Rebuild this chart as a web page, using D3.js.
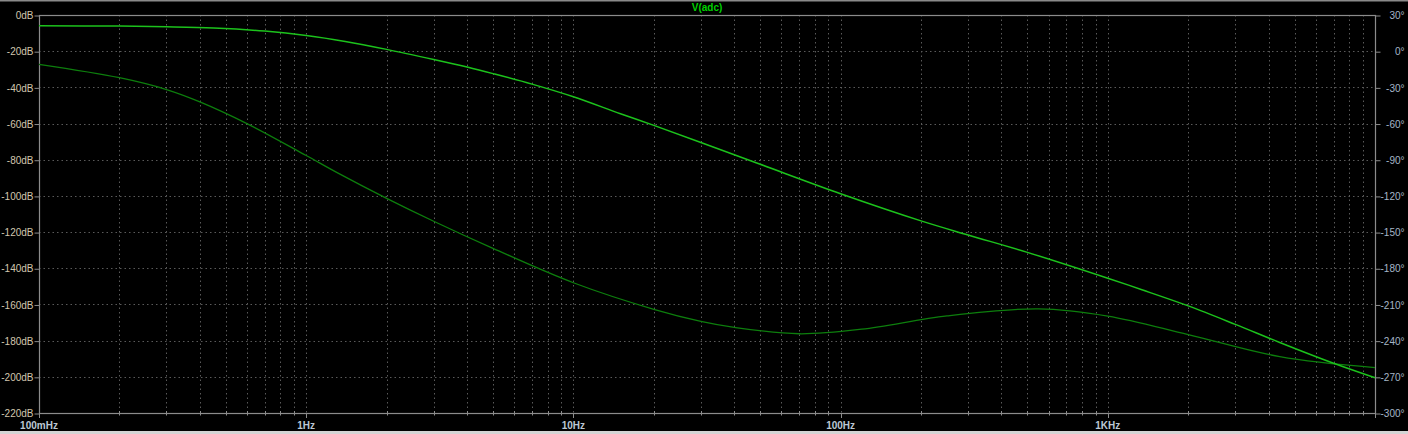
<!DOCTYPE html>
<html><head><meta charset="utf-8">
<script src="https://cdn.jsdelivr.net/npm/d3@7"></script>
<style>
html,body{margin:0;padding:0;background:#000;overflow:hidden}
svg{display:block}
text{font-family:"Liberation Sans",Arial,sans-serif}
</style></head>
<body>
<svg id="chart" width="1408" height="434"></svg>
<script>
// ---- data ----
const title = "V(adc)";
const magFreq = [0.1,0.2,0.3,0.45,0.7,1,1.4,2,3,4,5,7,10,15,20,30,50,100,200,300,500,1000,1350,2000,3000,4400,7000,10000];
const magDb   = [-6,-6.1,-6.5,-7.2,-8.9,-11.3,-14.6,-19,-24.6,-28.8,-32.4,-38.2,-45.2,-54.6,-61,-70.5,-82.5,-98.8,-113.8,-121.6,-131.2,-145.5,-152,-160.8,-171,-181,-192.5,-200.5];
const phFreq  = [0.1,0.2,0.3,0.4,0.6,1,1.3,2,3,5,10,20,30,40,70,120,250,550,1000,2000,4400,10000];
const phaseDeg= [-10.9,-22,-31.8,-42,-60,-86.5,-100.5,-122,-141,-163.5,-192,-214,-224,-229,-234.3,-230.5,-219.5,-213.6,-219.6,-235,-253.3,-262.4];
const magTicks = [0,-20,-40,-60,-80,-100,-120,-140,-160,-180,-200,-220];
const phaseTicks = [30,0,-30,-60,-90,-120,-150,-180,-210,-240,-270,-300];
const freqLabels = [[0.1,"100mHz"],[1,"1Hz"],[10,"10Hz"],[100,"100Hz"],[1000,"1KHz"]];

// ---- layout ----
const L = 39, R = 1375, T = 15, B = 413;
const svg = d3.select("#chart");
svg.append("rect").attr("width",1408).attr("height",434).attr("fill","#000");

const x = d3.scaleLog().domain([0.1,10000]).range([L,R]);
const yMag = d3.scaleLinear().domain([-220,0]).range([B,T]);
const yPh = d3.scaleLinear().domain([-300,30]).range([B,T]);

const freqGrid = [];
for (let e=-1;e<4;e++) for (let m=1;m<10;m++) freqGrid.push(m*Math.pow(10,e));
freqGrid.push(10000);
const isDecade = d => Math.abs(Math.log10(d)-Math.round(Math.log10(d)))<1e-9;

const grid = svg.append("g");
grid.selectAll("line.v").data(freqGrid.filter(f=>f>0.1 && f<10000)).join("line")
  .attr("x1",d=>Math.round(x(d))+0.5).attr("x2",d=>Math.round(x(d))+0.5)
  .attr("y1",T).attr("y2",B)
  .attr("stroke","#5a5a5a").attr("stroke-width",1).attr("stroke-dasharray","1.5,3");
grid.selectAll("line.h").data(magTicks.filter(d=>d<0 && d>-220)).join("line")
  .attr("x1",L).attr("x2",R)
  .attr("y1",d=>Math.round(yMag(d))+0.5).attr("y2",d=>Math.round(yMag(d))+0.5)
  .attr("stroke","#5a5a5a").attr("stroke-width",1).attr("stroke-dasharray","1.5,3");

const frameC = "#8c8c8c";
svg.append("rect").attr("x",L+0.5).attr("y",T+0.5).attr("width",R-L).attr("height",B-T)
  .attr("fill","none").attr("stroke",frameC).attr("stroke-width",1.2);

// left axis
const axL = d3.axisLeft(yMag).tickValues(magTicks).tickSize(5).tickPadding(1).tickFormat(d=>d+"dB");
const gL = svg.append("g").attr("transform",`translate(${L+0.5},0.5)`).call(axL);
gL.select(".domain").remove();
gL.selectAll("line").attr("stroke",frameC);
gL.selectAll("text").attr("fill","#d2c6ae").attr("font-size","10px").attr("font-family","Liberation Sans, Arial, sans-serif");

// right axis (labels right-aligned near window edge)
const axR = d3.axisRight(yPh).tickValues(phaseTicks).tickSize(5).tickFormat(d=>d+"°");
const gR = svg.append("g").attr("transform",`translate(${R+0.5},0.5)`).call(axR);
gR.select(".domain").remove();
gR.selectAll("line").attr("stroke",frameC);
gR.selectAll("text").attr("x",29).attr("text-anchor","end")
  .attr("fill","#a6b6c8").attr("font-size","10px").attr("font-family","Liberation Sans, Arial, sans-serif");

// bottom axis ticks
const gB = svg.append("g");
gB.selectAll("line").data(freqGrid).join("line")
  .attr("x1",d=>Math.round(x(d))+0.5).attr("x2",d=>Math.round(x(d))+0.5)
  .attr("y1",d=>isDecade(d) ? B : B-2)
  .attr("y2",d=>isDecade(d) ? B+5 : B+2.5)
  .attr("stroke",frameC);
gB.selectAll("text").data(freqLabels).join("text")
  .attr("x",d=>x(d[0])).attr("y",B+16).attr("text-anchor","middle")
  .attr("fill","#bcc8d4").attr("font-size","10px").attr("font-weight","bold")
  .text(d=>d[1]);

// title
svg.append("text").attr("x",(L+R)/2).attr("y",11).attr("text-anchor","middle")
  .attr("fill","#00d000").attr("font-size","10px").attr("font-weight","bold").text(title);

// curves
const magPts = magFreq.map((f,i)=>({f, v:magDb[i]}));
const phPts = phFreq.map((f,i)=>({f, v:phaseDeg[i]}));
const lineMag = d3.line().x(d=>x(d.f)).y(d=>yMag(d.v)).curve(d3.curveCatmullRom.alpha(0.5));
const linePh = d3.line().x(d=>x(d.f)).y(d=>yPh(d.v)).curve(d3.curveCatmullRom.alpha(0.5));
svg.append("path").datum(phPts).attr("d",linePh).attr("fill","none")
  .attr("stroke","#0d7e0d").attr("stroke-width",1.3);
svg.append("path").datum(magPts).attr("d",lineMag).attr("fill","none")
  .attr("stroke","#1cc21c").attr("stroke-width",1.5);

// window edges
svg.append("rect").attr("x",0).attr("y",0).attr("width",1408).attr("height",1.5).attr("fill","#8a8a8a");
svg.append("rect").attr("x",0).attr("y",431).attr("width",1408).attr("height",3).attr("fill","#d4d4d4");
</script>
</body></html>
